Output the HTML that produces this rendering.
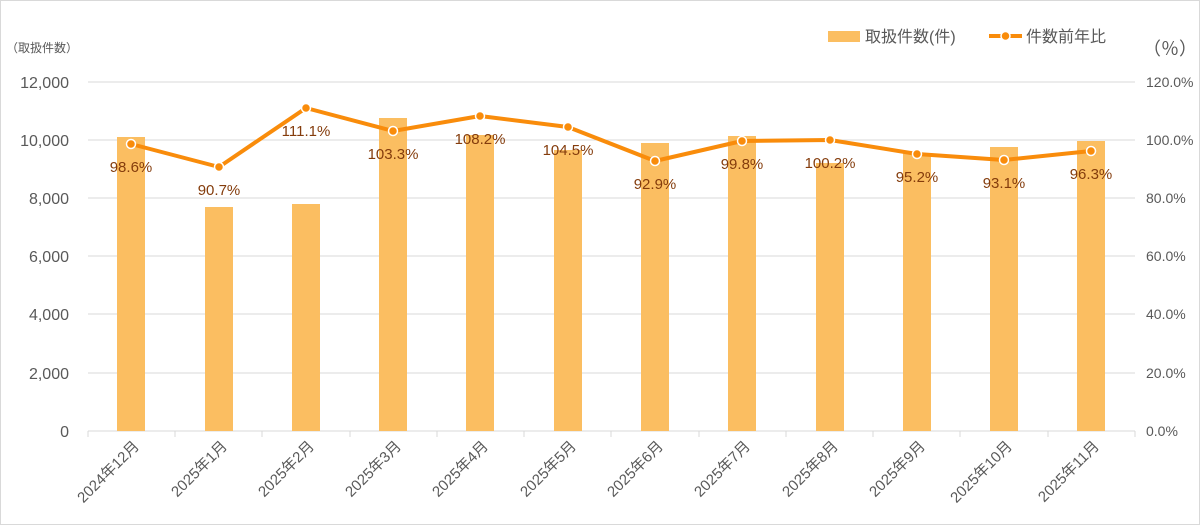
<!DOCTYPE html><html><head><meta charset="utf-8"><style>body{margin:0;background:#fff}svg{display:block}text{font-family:"Liberation Sans","Noto Sans CJK JP",sans-serif}</style></head><body>
<svg width="1200" height="525" viewBox="0 0 1200 525">
<rect x="0.5" y="0.5" width="1199" height="524" fill="#fff" stroke="#d9d9d9"/>
<g stroke="#d9d9d9" stroke-width="1">
<line x1="88" x2="1135" y1="82" y2="82"/><line x1="88" x2="1135" y1="140" y2="140"/><line x1="88" x2="1135" y1="198" y2="198"/><line x1="88" x2="1135" y1="256" y2="256"/><line x1="88" x2="1135" y1="314" y2="314"/><line x1="88" x2="1135" y1="373" y2="373"/><line x1="88" x2="1135" y1="431" y2="431"/>
</g>
<g stroke="#d9d9d9"><line x1="88" x2="88" y1="431" y2="437"/><line x1="175" x2="175" y1="431" y2="437"/><line x1="262" x2="262" y1="431" y2="437"/><line x1="350" x2="350" y1="431" y2="437"/><line x1="437" x2="437" y1="431" y2="437"/><line x1="524" x2="524" y1="431" y2="437"/><line x1="611" x2="611" y1="431" y2="437"/><line x1="699" x2="699" y1="431" y2="437"/><line x1="786" x2="786" y1="431" y2="437"/><line x1="873" x2="873" y1="431" y2="437"/><line x1="960" x2="960" y1="431" y2="437"/><line x1="1048" x2="1048" y1="431" y2="437"/><line x1="1135" x2="1135" y1="431" y2="437"/></g>
<g font-size="16" fill="#595959" text-anchor="end">
<text x="69" y="88">12,000</text><text x="69" y="146">10,000</text><text x="69" y="204">8,000</text><text x="69" y="262">6,000</text><text x="69" y="320">4,000</text><text x="69" y="379">2,000</text><text x="69" y="437">0</text>
</g>
<g font-size="14" fill="#595959" text-anchor="start">
<text x="1146" y="87">120.0%</text><text x="1146" y="145">100.0%</text><text x="1146" y="203">80.0%</text><text x="1146" y="261">60.0%</text><text x="1146" y="319">40.0%</text><text x="1146" y="378">20.0%</text><text x="1146" y="436">0.0%</text>
</g>
<text x="6" y="52" font-size="12" fill="#595959">（取扱件数）</text>
<text x="1143" y="55" font-size="18" fill="#595959">（％）</text>
<g fill="#fbbe61">
<rect x="117" y="137" width="28" height="294"/><rect x="205" y="207" width="28" height="224"/><rect x="292" y="204" width="28" height="227"/><rect x="379" y="118" width="28" height="313"/><rect x="466" y="135" width="28" height="296"/><rect x="554" y="150" width="28" height="281"/><rect x="641" y="143" width="28" height="288"/><rect x="728" y="136" width="28" height="295"/><rect x="816" y="163" width="28" height="268"/><rect x="903" y="153" width="28" height="278"/><rect x="990" y="147" width="28" height="284"/><rect x="1077" y="141" width="28" height="290"/>
</g>
<polyline fill="none" stroke="#f98c0b" stroke-width="4" stroke-linejoin="round" points="131,144 219,167 306,108 393,131 480,116 568,127 655,161 742,141 830,140 917,154 1004,160 1091,151"/>
<g fill="#f98c0b" stroke="#fff" stroke-width="1.5">
<circle cx="131" cy="144" r="4.5"/><circle cx="219" cy="167" r="4.5"/><circle cx="306" cy="108" r="4.5"/><circle cx="393" cy="131" r="4.5"/><circle cx="480" cy="116" r="4.5"/><circle cx="568" cy="127" r="4.5"/><circle cx="655" cy="161" r="4.5"/><circle cx="742" cy="141" r="4.5"/><circle cx="830" cy="140" r="4.5"/><circle cx="917" cy="154" r="4.5"/><circle cx="1004" cy="160" r="4.5"/><circle cx="1091" cy="151" r="4.5"/>
</g>
<g font-size="15" fill="#843c0c" text-anchor="middle">
<text x="131" y="172">98.6%</text><text x="219" y="195">90.7%</text><text x="306" y="136">111.1%</text><text x="393" y="159">103.3%</text><text x="480" y="144">108.2%</text><text x="568" y="155">104.5%</text><text x="655" y="189">92.9%</text><text x="742" y="169">99.8%</text><text x="830" y="168">100.2%</text><text x="917" y="182">95.2%</text><text x="1004" y="188">93.1%</text><text x="1091" y="179">96.3%</text>
</g>
<g font-size="15" fill="#595959" text-anchor="end">
<text transform="translate(140,447) rotate(-45)">2024年12月</text>
<text transform="translate(228,447) rotate(-45)">2025年1月</text>
<text transform="translate(315,447) rotate(-45)">2025年2月</text>
<text transform="translate(402,447) rotate(-45)">2025年3月</text>
<text transform="translate(489,447) rotate(-45)">2025年4月</text>
<text transform="translate(577,447) rotate(-45)">2025年5月</text>
<text transform="translate(664,447) rotate(-45)">2025年6月</text>
<text transform="translate(751,447) rotate(-45)">2025年7月</text>
<text transform="translate(839,447) rotate(-45)">2025年8月</text>
<text transform="translate(926,447) rotate(-45)">2025年9月</text>
<text transform="translate(1013,447) rotate(-45)">2025年10月</text>
<text transform="translate(1100,447) rotate(-45)">2025年11月</text>
</g>
<rect x="828" y="31" width="32" height="11" fill="#fbbe61"/>
<text x="865" y="42" font-size="16" fill="#595959">取扱件数(件)</text>
<line x1="989" x2="1022" y1="36" y2="36" stroke="#f98c0b" stroke-width="4"/>
<circle cx="1005.5" cy="36" r="4.5" fill="#f98c0b" stroke="#fff" stroke-width="1.5"/>
<text x="1026" y="42" font-size="16" fill="#595959">件数前年比</text>
</svg></body></html>
